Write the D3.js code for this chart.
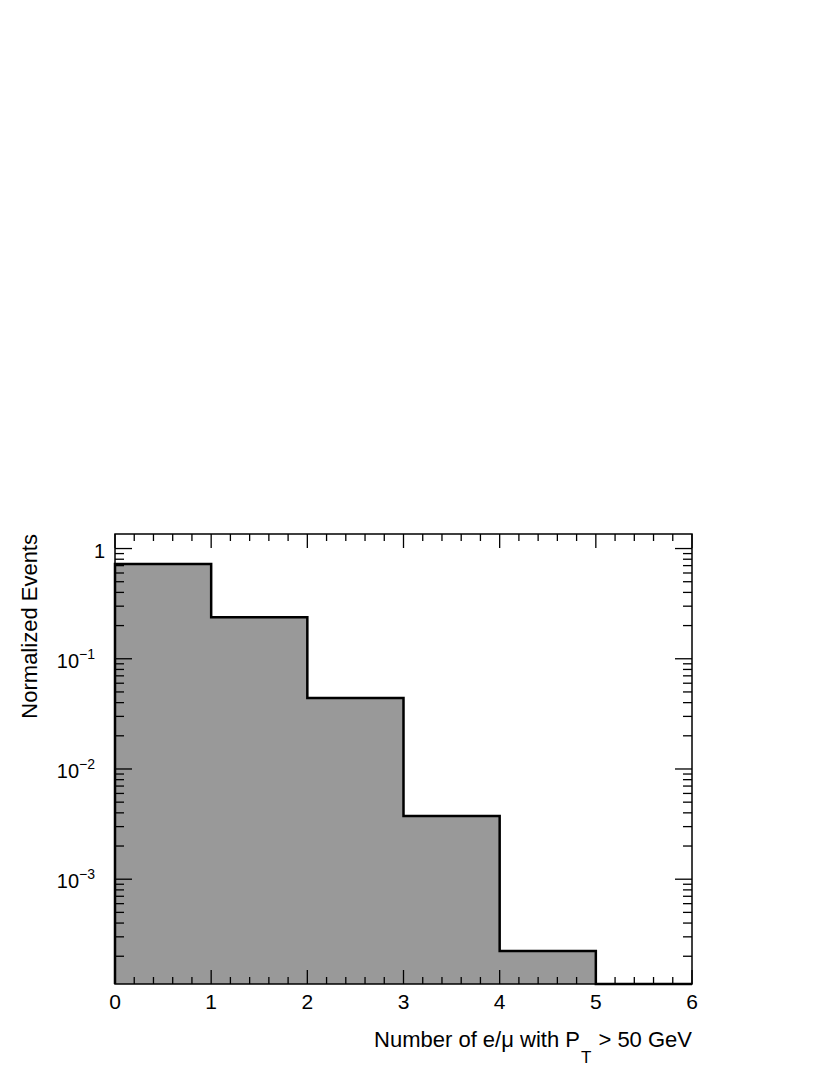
<!DOCTYPE html>
<html><head><meta charset="utf-8">
<script src="https://cdn.jsdelivr.net/npm/d3@7"></script>
<style>body{margin:0;background:#fff}svg{display:block}text{font-family:"Liberation Sans",Arial,sans-serif;fill:#000}</style>
</head><body>
<svg id="c" width="830" height="1075"></svg>
<script>
const binEdges = [0, 1, 2, 3, 4, 5, 6];
const binValues = [0.723, 0.2375, 0.044, 0.00374, 0.000223, 0];
const yTickValues = [1, 0.1, 0.01, 0.001];
const yTickLabels = [["1", ""], ["10", "\u22121"], ["10", "\u22122"], ["10", "\u22123"]];
const xTickValues = [0, 1, 2, 3, 4, 5, 6];
const yDomain = [1.12e-4, 1.355];

const svg = d3.select("#c");
const L = 115, R = 692, T = 534, B = 984;
const x = d3.scaleLinear().domain([0, 6]).range([L, R]);
const y = d3.scaleLog().domain(yDomain).range([B, T]);
const yc = v => v <= yDomain[0] ? B : Math.max(T, y(v));

// fill
const pts = [];
binValues.forEach((v, i) => { pts.push([x(binEdges[i]), yc(v)]); pts.push([x(binEdges[i + 1]), yc(v)]); });
const area = [[x(0), B], ...pts, [x(6), B]];
svg.append("path").attr("d", d3.line()(area) + "Z").attr("fill", "#999999").attr("stroke", "none");
svg.append("path").attr("d", d3.line()(area)).attr("fill", "none").attr("stroke", "#000").attr("stroke-width", 2.5).attr("stroke-linejoin", "miter");

// frame
svg.append("rect").attr("x", L).attr("y", T).attr("width", R - L).attr("height", B - T)
  .attr("fill", "none").attr("stroke", "#000").attr("stroke-width", 1.5);

const g = svg.append("g").attr("stroke", "#000").attr("stroke-width", 1.3);
// x ticks
const xMinor = d3.range(0, 6.0001, 0.2);
xMinor.forEach(v => {
  const major = Math.abs(v - Math.round(v)) < 1e-6;
  const len = major ? 14 : 7;
  const px = x(v);
  g.append("line").attr("x1", px).attr("x2", px).attr("y1", B).attr("y2", B - len);
  g.append("line").attr("x1", px).attr("x2", px).attr("y1", T).attr("y2", T + len);
});
// y ticks
const yMinor = [];
for (let e = -4; e <= 0; e++) for (let m = 1; m <= 9; m++) {
  const v = m * Math.pow(10, e);
  if (v >= yDomain[0] && v <= yDomain[1]) yMinor.push({ v, major: m === 1 });
}
yMinor.forEach(({ v, major }) => {
  const len = major ? 17 : 9;
  const py = y(v);
  g.append("line").attr("y1", py).attr("y2", py).attr("x1", L).attr("x2", L + len);
  g.append("line").attr("y1", py).attr("y2", py).attr("x1", R).attr("x2", R - len);
});

// x tick labels
xTickValues.forEach(v => {
  svg.append("text").attr("x", x(v)).attr("y", 1009).attr("text-anchor", "middle")
    .attr("font-size", 21).text(v);
});
// y tick labels
yTickValues.forEach((v, i) => {
  const [base, exp] = yTickLabels[i];
  const t = svg.append("text").attr("x", exp ? 95 : 105).attr("y", y(v) + 9).attr("text-anchor", "end").attr("font-size", 20);
  t.append("tspan").text(base);
  if (exp) t.append("tspan").attr("font-size", 14).attr("dy", -9).text(exp);
});

// axis titles
const xt = svg.append("text").attr("x", R).attr("y", 1047).attr("text-anchor", "end").attr("font-size", 22);
xt.append("tspan").text("Number of e/\u03bc with P");
xt.append("tspan").attr("font-size", 17).attr("dy", 16).attr("dx", 1).text("T");
xt.append("tspan").attr("dy", -16).attr("dx", 1).text(" > 50 GeV");

svg.append("text").attr("transform", "translate(37,534) rotate(-90)").attr("text-anchor", "end")
  .attr("font-size", 22).text("Normalized Events");
</script>
</body></html>
